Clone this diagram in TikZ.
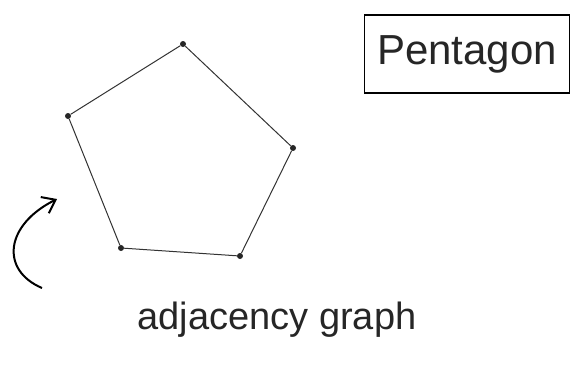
\documentclass[tikz,border=0pt]{standalone}
\usepackage{fontspec}
\setmainfont{Liberation Sans}
\usetikzlibrary{arrows.meta}
\begin{document}
\begin{tikzpicture}[x=1pt, y=-1pt,
  vtx/.style={circle, fill=black!85, inner sep=0pt, minimum size=6pt},
  edge/.style={draw=black!80, line width=1pt},
  every node/.style={text=black!85}]

\useasboundingbox (0,0) rectangle (573,373);

%% Vertices
\node[vtx] (v1) at (183,44)  {};
\node[vtx] (v2) at (293,148) {};
\node[vtx] (v3) at (240,256) {};
\node[vtx] (v4) at (121,248) {};
\node[vtx] (v5) at (68,116)  {};

%% Edges
\draw[edge] (v1) -- (v2) -- (v3) -- (v4) -- (v5) -- (v1);

%% Title box
\node[draw, line width=1.4pt, minimum width=205pt, minimum height=78pt,
      font=\fontsize{42}{46}\selectfont] (title) at (467,54) {Pentagon};

%% Curved arrow
\coordinate (tail) at (42,288);
\coordinate (tip)  at (57,199);
\draw[line width=2pt, -{Straight Barb[length=12pt, width=18pt]}]
  (tail) .. controls (0,270) and (5,225) .. (tip);

%% Caption
\node[font=\fontsize{38}{42}\selectfont] (caption) at (277,320)
  {adjacency graph};

\end{tikzpicture}
\end{document}
